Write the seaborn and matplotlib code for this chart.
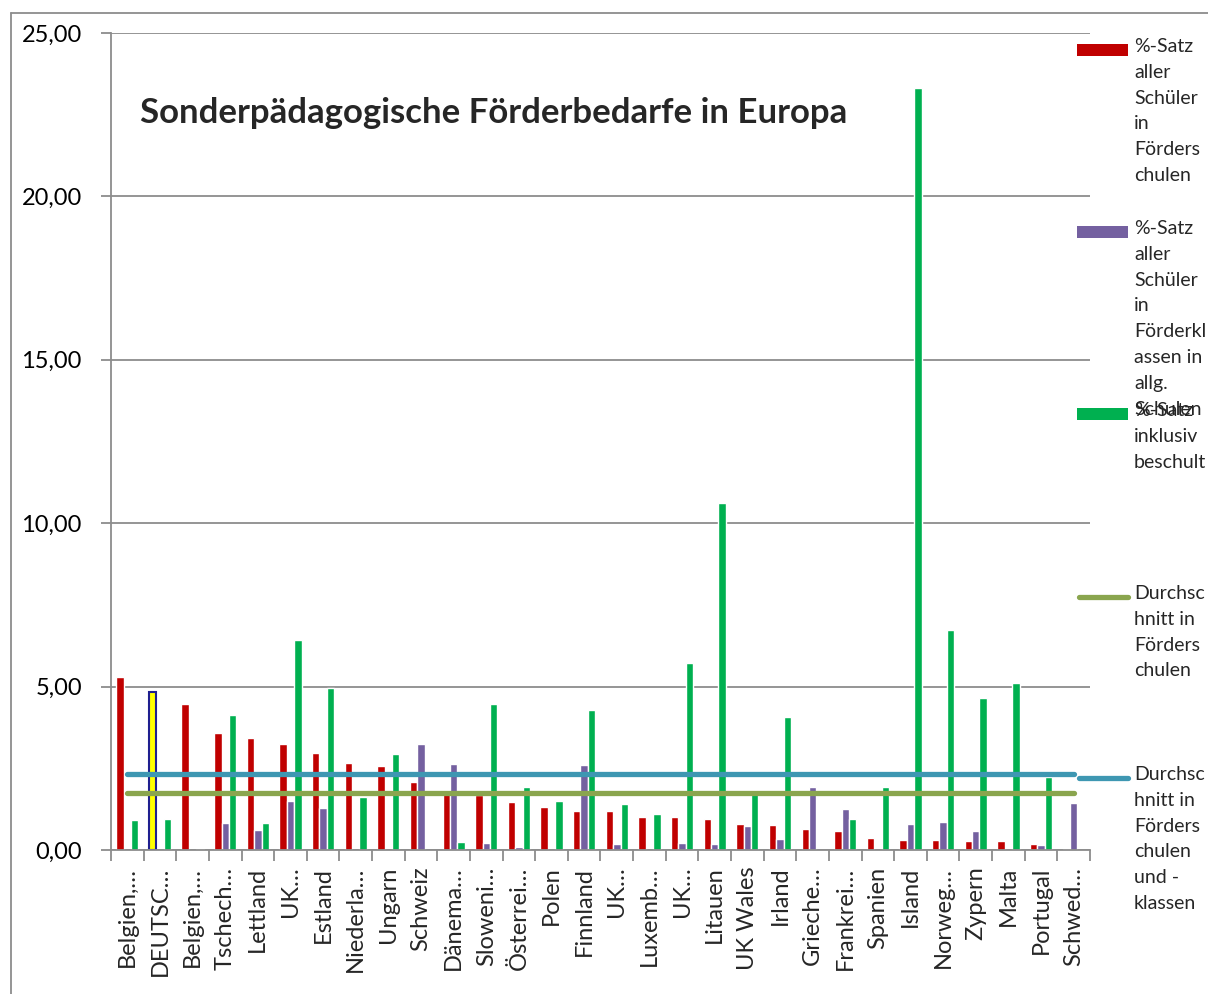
import numpy as np
import pandas as pd
import matplotlib
matplotlib.use("Agg")
import matplotlib.pyplot as plt
from matplotlib.patches import Rectangle
from matplotlib.lines import Line2D
import seaborn as sns

# ---------------- data ----------------
categories = ["Belgien, Flämisch", "DEUTSCHLAND", "Belgien, Französisch", "Tschechien",
              "Lettland", "UK England", "Estland", "Niederlande", "Ungarn", "Schweiz",
              "Dänemark", "Slowenien", "Österreich", "Polen", "Finnland", "UK Schottland",
              "Luxemburg", "UK Nordirland", "Litauen", "UK Wales", "Irland", "Griechenland",
              "Frankreich", "Spanien", "Island", "Norwegen", "Zypern", "Malta", "Portugal",
              "Schweden"]
tick_labels = ["Belgien,…", "DEUTSC…", "Belgien,…", "Tschech…", "Lettland", "UK…",
               "Estland", "Niederla…", "Ungarn", "Schweiz", "Dänema…", "Sloweni…",
               "Österrei…", "Polen", "Finnland", "UK…", "Luxemb…", "UK…", "Litauen",
               "UK Wales", "Irland", "Grieche…", "Frankrei…", "Spanien", "Island",
               "Norweg…", "Zypern", "Malta", "Portugal", "Schwed…"]
nan = np.nan
foerderschulen = [5.29, 4.85, 4.47, 3.58, 3.43, 3.24, 2.97, 2.65, 2.57, 2.07,
                  1.75, 1.69, 1.46, 1.32, 1.19, 1.18, 1.01, 1.01, 0.94, 0.80,
                  0.75, 0.63, 0.58, 0.38, 0.31, 0.30, 0.28, 0.27, 0.18, 0.04]
foerderklassen = [nan, nan, nan, 0.83, 0.62, 1.49, 1.29, nan, nan, 3.25,
                  2.62, 0.22, 0.10, nan, 2.59, 0.18, nan, 0.21, 0.18, 0.73,
                  0.35, 1.94, 1.26, nan, 0.79, 0.85, 0.58, nan, 0.14, 1.44]
inklusiv = [0.92, 0.96, 0.02, 4.14, 0.82, 6.43, 4.96, 1.63, 2.94, nan,
            0.26, 4.46, 1.94, 1.49, 4.29, 1.40, 1.09, 5.72, 10.62, 1.81,
            4.07, nan, 0.94, 1.94, 23.32, 6.73, 4.64, 5.11, 2.24, nan]
avg_schulen = 1.75
avg_schulen_klassen = 2.32

series_names = ["%-Satz aller Schüler in Förderschulen",
                "%-Satz aller Schüler in Förderklassen in allg. Schulen",
                "%-Satz inklusiv beschult"]
legend_labels = ["%-Satz\naller\nSchüler\nin\nFörders\nchulen",
                 "%-Satz\naller\nSchüler\nin\nFörderkl\nassen in\nallg.\nSchulen",
                 "%-Satz\ninklusiv\nbeschult",
                 "Durchsc\nhnitt in\nFörders\nchulen",
                 "Durchsc\nhnitt in\nFörders\nchulen\nund -\nklassen"]
title = "Sonderpädagogische Förderbedarfe in Europa"

colors = ["#C00000", "#7460A0", "#00B050"]
line_colors = ["#8AA54E", "#3E97B2"]

# ---------------- build frame ----------------
df = pd.DataFrame({
    "Land": categories * 3,
    "Serie": sum([[s] * len(categories) for s in series_names], []),
    "Wert": foerderschulen + foerderklassen + inklusiv,
})

sns.set_theme(style="white")
plt.rcParams["font.family"] = ["Lato", "DejaVu Sans"]

W, H = 1208, 994
fig = plt.figure(figsize=(W / 100, H / 100), dpi=100)
ax = fig.add_axes([111 / W, 1 - 850 / H, (1090 - 111) / W, (850 - 33) / H])

sns.barplot(data=df, x="Land", y="Wert", hue="Serie", order=categories,
            hue_order=series_names, palette=colors, width=0.68, saturation=1,
            dodge=True, ax=ax, legend=False, zorder=2)

# highlight DEUTSCHLAND bar
de_bar = ax.containers[0][categories.index("DEUTSCHLAND")]
de_bar.set_facecolor("#FFFF00")
de_bar.set_edgecolor("#1F1F8F")
de_bar.set_linewidth(1.5)

xs = np.arange(len(categories))
sns.lineplot(x=xs, y=[avg_schulen] * len(categories), color=line_colors[0],
             linewidth=3.8, ax=ax, zorder=3, solid_capstyle="round")
sns.lineplot(x=xs, y=[avg_schulen_klassen] * len(categories), color=line_colors[1],
             linewidth=3.8, ax=ax, zorder=3, solid_capstyle="round")

ax.set_xlim(-0.5, len(categories) - 0.5)
ax.set_ylim(0, 25)
ax.set_yticks([0, 5, 10, 15, 20, 25])
ax.set_yticklabels(["0,00", "5,00", "10,00", "15,00", "20,00", "25,00"], fontsize=17)
ax.yaxis.grid(True, color="#8C8C8C", linewidth=1.3)
ax.set_axisbelow(True)
ax.tick_params(axis="y", which="major", length=7, width=1.3, color="#8C8C8C",
               left=True, pad=14, labelcolor="black")

ax.set_xticks(xs)
ax.set_xticklabels(tick_labels, rotation=90, fontsize=17)
ax.set_xticks(np.arange(len(categories) + 1) - 0.5, minor=True)
ax.tick_params(axis="x", which="major", length=0, pad=12)
ax.tick_params(axis="x", which="minor", length=8, width=1.3, color="#8C8C8C",
               bottom=True)
ax.set_xlabel("")
ax.set_ylabel("")

for s in ["top", "right"]:
    ax.spines[s].set_visible(False)
for s in ["left", "bottom"]:
    ax.spines[s].set_color("#8C8C8C")
    ax.spines[s].set_linewidth(1.3)

ax.text(0.03, 0.902, title, transform=ax.transAxes, fontsize=25,
        fontweight="bold", va="center", ha="left")

# chart frame
fig.add_artist(Line2D([11 / W, 1.0], [1 - 13 / H, 1 - 13 / H], color="#8C8C8C",
                      linewidth=1.3, transform=fig.transFigure))
fig.add_artist(Line2D([11 / W, 11 / W], [0, 1 - 13 / H], color="#8C8C8C",
                      linewidth=1.3, transform=fig.transFigure))

# manual legend
leg_y = [50, 232, 414, 597, 778]
for i, (lab, y) in enumerate(zip(legend_labels, leg_y)):
    if i < 3:
        fig.add_artist(Rectangle((1077 / W, 1 - (y + 6) / H), 51 / W, 12 / H,
                                 facecolor=colors[i], edgecolor="none",
                                 transform=fig.transFigure))
    else:
        fig.add_artist(Line2D([1079 / W, 1128 / W], [1 - y / H, 1 - y / H],
                              color=line_colors[i - 3], linewidth=3.8,
                              solid_capstyle="round", transform=fig.transFigure))
    fig.text(1134 / W, 1 - (y - 12) / H, lab, fontsize=14, va="top", ha="left",
             linespacing=1.63)

fig.savefig("out.png", dpi=100)
